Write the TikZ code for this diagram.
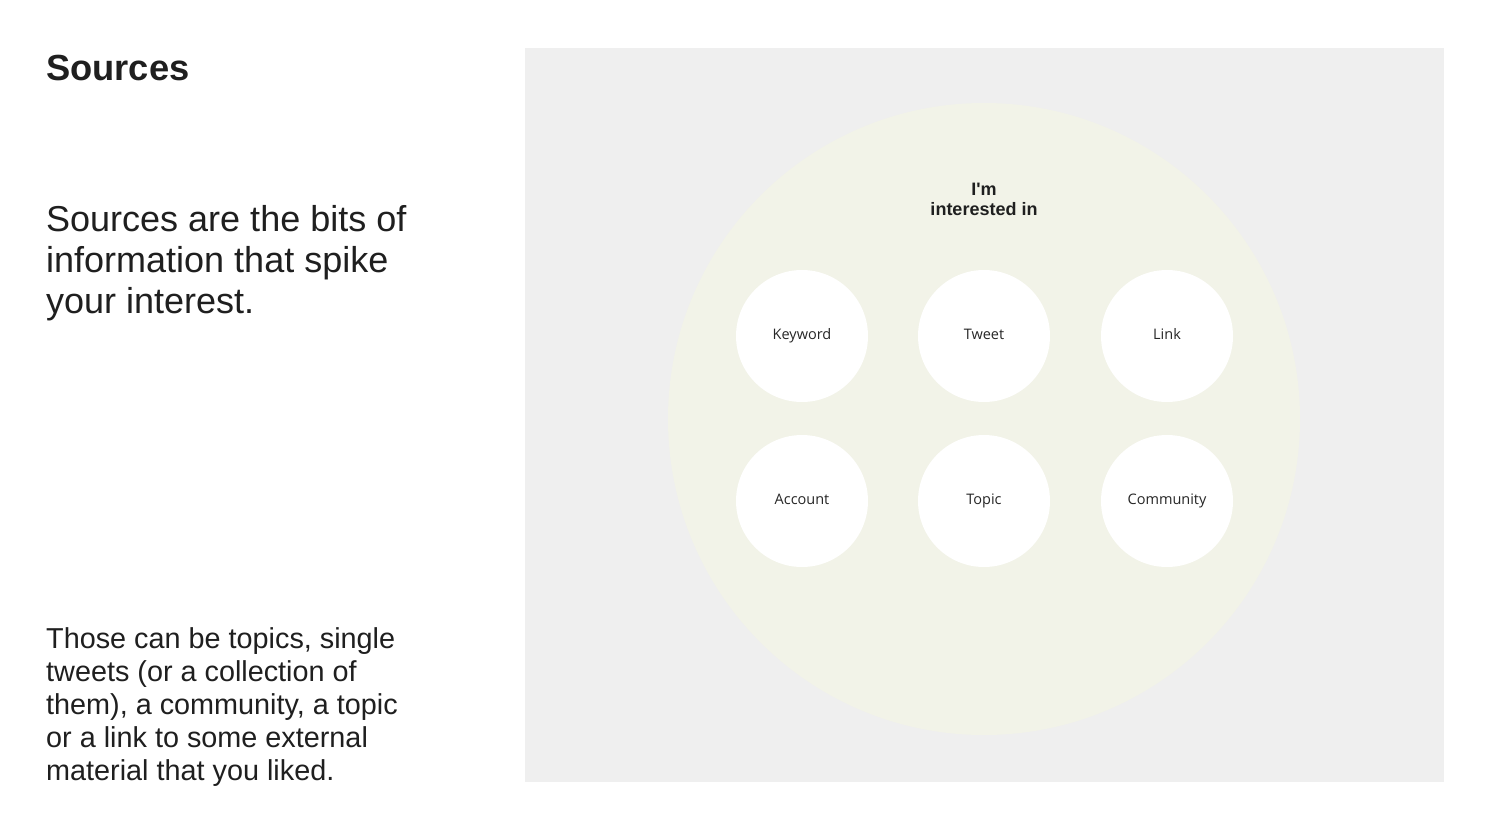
\documentclass[tikz,border=0pt]{standalone}
\usepackage{fontspec}
\setmainfont{Liberation Sans}
% same face without the TeX quote mapping, so ' stays straight
\newfontfamily\capfont{Liberation Sans}
\newfontfamily\labelfont{Open Sans}
\definecolor{ink}{HTML}{1F1F1F}
\definecolor{panel}{HTML}{EFEFEF}
\definecolor{halo}{HTML}{F2F3E8}
\definecolor{chipink}{HTML}{262626}
\begin{document}
\begin{tikzpicture}[x=1pt,y=-1pt,
  heading/.style={anchor=base west,inner sep=0pt,text=ink,font=\bfseries\fontsize{36.3}{40}\selectfont},
  % multi-line nodes: the base anchor sits on the last line
  lead/.style={anchor=base west,inner sep=0pt,text=ink,align=left,font=\fontsize{36}{41}\selectfont},
  body/.style={anchor=base west,inner sep=0pt,text=ink,align=left,font=\fontsize{28.8}{32.8}\selectfont},
  caption/.style={inner sep=0pt,text=ink,align=center,font=\capfont\bfseries\fontsize{18}{20}\selectfont},
  chip/.style={circle,fill=white,minimum size=132pt,inner sep=0pt,text height=10.5pt,text depth=3pt,
    text=chipink,font=\labelfont\fontsize{14.5}{17}\selectfont}]
  \useasboundingbox (0,0) rectangle (1494,827);
  \fill[white] (0,0) rectangle (1494,827);

  % left column texts
  \node[heading] (title) at (46,80) {Sources};
  \node[lead] (lead) at (46,313) {Sources are the bits of\\information that spike\\your interest.};
  \node[body] (body) at (46,780) {Those can be topics, single\\tweets (or a collection of\\them), a community, a topic\\or a link to some external\\material that you liked.};

  % right panel with the interest halo
  \fill[panel] (525,48) rectangle (1444,782);
  \fill[halo] (984,419) circle (316);
  \node[caption] (cap) at (984,199) {I'm\\interested in};

  % source chips
  \node[chip] (keyword) at (802,336) {Keyword};
  \node[chip] (tweet) at (984,336) {Tweet};
  \node[chip] (link) at (1167,336) {Link};
  \node[chip] (account) at (802,501) {Account};
  \node[chip] (topic) at (984,501) {Topic};
  \node[chip] (community) at (1167,501) {Community};
\end{tikzpicture}
\end{document}
